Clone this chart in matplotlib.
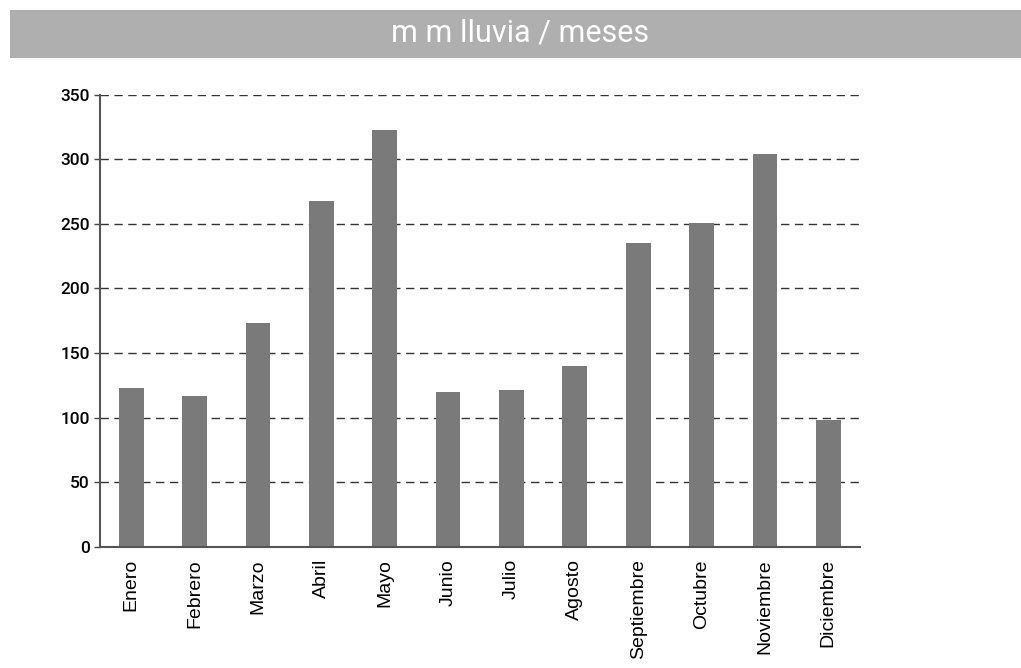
import matplotlib
matplotlib.use("Agg")
import matplotlib.pyplot as plt
from matplotlib.patches import Rectangle

meses = ["Enero", "Febrero", "Marzo", "Abril", "Mayo", "Junio", "Julio",
         "Agosto", "Septiembre", "Octubre", "Noviembre", "Diciembre"]
lluvia_mm = [123, 117, 173, 268, 323, 120, 121, 140, 235, 251, 304, 98]
y_ticks = [0, 50, 100, 150, 200, 250, 300, 350]
titulo = "m m lluvia / meses"

W, H = 1021, 668
fig = plt.figure(figsize=(W / 100, H / 100), dpi=100)

# grey title banner across the top
fig.patches.append(Rectangle((10 / W, 1 - 58 / H), 1 - 10 / W, 48 / H,
                             transform=fig.transFigure, facecolor="#afafaf",
                             edgecolor="none", zorder=0))
fig.text(520 / W, 1 - 41 / H, titulo, color="white", fontsize=22,
         family="Roboto", ha="center", va="baseline")

ax = fig.add_axes([99.5 / W, 1 - 546.7 / H, (860 - 99.5) / W, (546.7 - 94.7) / H])
x = range(len(meses))
ax.bar(x, lluvia_mm, width=0.39, color="#7a7a7a", zorder=2)

ax.set_xlim(-0.5, len(meses) - 0.5)
ax.set_ylim(0, 350)
ax.set_yticks(y_ticks)
ax.set_yticklabels([str(v) for v in y_ticks], family="Roboto", fontsize=12.5,
                   fontweight="medium")
ax.set_xticks(list(x))
ax.set_xticklabels(meses, rotation=90, fontsize=14, family="Liberation Sans")
ax.tick_params(axis="x", length=0, pad=9)
ax.tick_params(axis="y", length=4, width=1, color="#444444", pad=3)

for v in y_ticks[1:]:
    ax.axhline(v, color="#333333", linewidth=1.0, linestyle=(0, (6, 4)), zorder=1)

for side in ("top", "right"):
    ax.spines[side].set_visible(False)
for side in ("left", "bottom"):
    ax.spines[side].set_color("#555555")
    ax.spines[side].set_linewidth(1.5)
    ax.spines[side].set_zorder(3)

fig.savefig("out.png", dpi=100, facecolor="white")
